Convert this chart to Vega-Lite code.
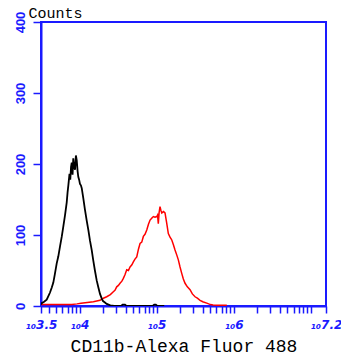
{
  "$schema": "https://vega.github.io/schema/vega-lite/v6.json",
  "autosize": {"type": "none"},
  "width": 285,
  "height": 284,
  "padding": {"left": 41, "top": 22, "right": 15, "bottom": 55},
  "background": "white",
  "config": {
    "view": {"stroke": "#1a1aff", "strokeWidth": 2},
    "axis": {"grid": false}
  },
  "datasets": {
    "curves": [
      {"s": "red", "x": 3.5, "y": 2}, {"s": "red", "x": 3.7, "y": 2}, {"s": "red", "x": 3.9, "y": 2},
      {"s": "red", "x": 3.968, "y": 3}, {"s": "red", "x": 4.02, "y": 4}, {"s": "red", "x": 4.1, "y": 5},
      {"s": "red", "x": 4.18, "y": 6}, {"s": "red", "x": 4.266, "y": 8}, {"s": "red", "x": 4.31, "y": 11},
      {"s": "red", "x": 4.353, "y": 13}, {"s": "red", "x": 4.4, "y": 16}, {"s": "red", "x": 4.439, "y": 20},
      {"s": "red", "x": 4.46, "y": 22}, {"s": "red", "x": 4.483, "y": 27}, {"s": "red", "x": 4.505, "y": 29},
      {"s": "red", "x": 4.526, "y": 32}, {"s": "red", "x": 4.55, "y": 35}, {"s": "red", "x": 4.569, "y": 39},
      {"s": "red", "x": 4.59, "y": 44}, {"s": "red", "x": 4.613, "y": 51}, {"s": "red", "x": 4.635, "y": 50},
      {"s": "red", "x": 4.656, "y": 55}, {"s": "red", "x": 4.68, "y": 58}, {"s": "red", "x": 4.699, "y": 62},
      {"s": "red", "x": 4.72, "y": 66}, {"s": "red", "x": 4.743, "y": 69}, {"s": "red", "x": 4.765, "y": 80},
      {"s": "red", "x": 4.786, "y": 88}, {"s": "red", "x": 4.808, "y": 90}, {"s": "red", "x": 4.829, "y": 98},
      {"s": "red", "x": 4.85, "y": 101}, {"s": "red", "x": 4.873, "y": 107}, {"s": "red", "x": 4.895, "y": 115},
      {"s": "red", "x": 4.916, "y": 121}, {"s": "red", "x": 4.94, "y": 124}, {"s": "red", "x": 4.959, "y": 126},
      {"s": "red", "x": 4.98, "y": 125}, {"s": "red", "x": 5.003, "y": 126}, {"s": "red", "x": 5.013, "y": 128},
      {"s": "red", "x": 5.023, "y": 116}, {"s": "red", "x": 5.034, "y": 132}, {"s": "red", "x": 5.045, "y": 140},
      {"s": "red", "x": 5.056, "y": 135}, {"s": "red", "x": 5.068, "y": 131}, {"s": "red", "x": 5.09, "y": 133},
      {"s": "red", "x": 5.11, "y": 131}, {"s": "red", "x": 5.13, "y": 118}, {"s": "red", "x": 5.153, "y": 102},
      {"s": "red", "x": 5.175, "y": 97}, {"s": "red", "x": 5.198, "y": 93}, {"s": "red", "x": 5.22, "y": 86},
      {"s": "red", "x": 5.24, "y": 79}, {"s": "red", "x": 5.262, "y": 72}, {"s": "red", "x": 5.283, "y": 65},
      {"s": "red", "x": 5.305, "y": 55}, {"s": "red", "x": 5.327, "y": 46}, {"s": "red", "x": 5.348, "y": 38},
      {"s": "red", "x": 5.37, "y": 32}, {"s": "red", "x": 5.4, "y": 27}, {"s": "red", "x": 5.435, "y": 23},
      {"s": "red", "x": 5.465, "y": 17}, {"s": "red", "x": 5.5, "y": 13}, {"s": "red", "x": 5.53, "y": 11},
      {"s": "red", "x": 5.565, "y": 8}, {"s": "red", "x": 5.6, "y": 6}, {"s": "red", "x": 5.652, "y": 4},
      {"s": "red", "x": 5.7, "y": 2}, {"s": "red", "x": 5.734, "y": 1.5}, {"s": "red", "x": 5.8, "y": 1},
      {"s": "red", "x": 5.912, "y": 1},
      {"s": "black", "x": 3.5, "y": 2}, {"s": "black", "x": 3.509, "y": 4}, {"s": "black", "x": 3.54, "y": 6},
      {"s": "black", "x": 3.574, "y": 9}, {"s": "black", "x": 3.6, "y": 15}, {"s": "black", "x": 3.617, "y": 19},
      {"s": "black", "x": 3.64, "y": 26}, {"s": "black", "x": 3.66, "y": 33}, {"s": "black", "x": 3.68, "y": 45},
      {"s": "black", "x": 3.704, "y": 60}, {"s": "black", "x": 3.725, "y": 70}, {"s": "black", "x": 3.747, "y": 84},
      {"s": "black", "x": 3.77, "y": 98}, {"s": "black", "x": 3.79, "y": 112}, {"s": "black", "x": 3.812, "y": 128},
      {"s": "black", "x": 3.834, "y": 146}, {"s": "black", "x": 3.845, "y": 160}, {"s": "black", "x": 3.855, "y": 170},
      {"s": "black", "x": 3.87, "y": 186}, {"s": "black", "x": 3.88, "y": 178}, {"s": "black", "x": 3.89, "y": 196},
      {"s": "black", "x": 3.899, "y": 202}, {"s": "black", "x": 3.91, "y": 185}, {"s": "black", "x": 3.919, "y": 208},
      {"s": "black", "x": 3.93, "y": 195}, {"s": "black", "x": 3.942, "y": 192}, {"s": "black", "x": 3.953, "y": 212},
      {"s": "black", "x": 3.964, "y": 205}, {"s": "black", "x": 3.975, "y": 190}, {"s": "black", "x": 3.984, "y": 182},
      {"s": "black", "x": 3.995, "y": 178}, {"s": "black", "x": 4.006, "y": 172}, {"s": "black", "x": 4.018, "y": 170},
      {"s": "black", "x": 4.029, "y": 166}, {"s": "black", "x": 4.049, "y": 152}, {"s": "black", "x": 4.07, "y": 136},
      {"s": "black", "x": 4.094, "y": 120}, {"s": "black", "x": 4.115, "y": 107}, {"s": "black", "x": 4.136, "y": 92},
      {"s": "black", "x": 4.158, "y": 79}, {"s": "black", "x": 4.179, "y": 64}, {"s": "black", "x": 4.2, "y": 50},
      {"s": "black", "x": 4.223, "y": 36}, {"s": "black", "x": 4.245, "y": 26}, {"s": "black", "x": 4.266, "y": 17},
      {"s": "black", "x": 4.29, "y": 10}, {"s": "black", "x": 4.305, "y": 7}, {"s": "black", "x": 4.33, "y": 5},
      {"s": "black", "x": 4.353, "y": 3}, {"s": "black", "x": 4.4, "y": 1}, {"s": "black", "x": 4.45, "y": 0},
      {"s": "black", "x": 4.54, "y": 0}, {"s": "black", "x": 4.56, "y": 2}, {"s": "black", "x": 4.59, "y": 2},
      {"s": "black", "x": 4.61, "y": 0}, {"s": "black", "x": 4.95, "y": 0}, {"s": "black", "x": 4.97, "y": 2},
      {"s": "black", "x": 4.99, "y": 2}, {"s": "black", "x": 5.01, "y": 0}, {"s": "black", "x": 5.1, "y": 0}
    ]
  },
  "data": {"name": "curves"},
  "mark": {"type": "line", "clip": true},
  "encoding": {
    "x": {
      "field": "x",
      "type": "quantitative",
      "scale": {"domain": [3.5, 7.2], "nice": false, "zero": false},
      "axis": {
        "values": [3.5, 3.60206, 3.69897, 3.77815, 3.8451, 3.90309, 3.95424, 4,
                   4.30103, 4.47712, 4.60206, 4.69897, 4.77815, 4.8451, 4.90309, 4.95424, 5,
                   5.30103, 5.47712, 5.60206, 5.69897, 5.77815, 5.8451, 5.90309, 5.95424, 6,
                   6.30103, 6.47712, 6.60206, 6.69897, 6.77815, 6.8451, 6.90309, 6.95424, 7, 7.2],
        "labelExpr": "indexof([3.5,4,5,6,7.2], datum.value) >= 0 ? '₁₀' + format(datum.value, '.2~f') : ''",
        "labelOverlap": false,
        "labelFlush": false,
        "labelColor": "#1a1aff",
        "labelFont": "DejaVu Sans",
        "labelFontWeight": "bold",
        "labelFontStyle": "italic",
        "labelFontSize": 12,
        "labelPadding": 6,
        "domainColor": "#1a1aff",
        "domainWidth": 2,
        "tickColor": "#1a1aff",
        "tickWidth": 1.5,
        "tickSize": 7,
        "title": "CD11b-Alexa Fluor 488",
        "titleFont": "Liberation Mono",
        "titleFontSize": 18,
        "titleFontWeight": "normal",
        "titleColor": "black",
        "titleBaseline": "alphabetic",
        "titleY": 45
      }
    },
    "y": {
      "field": "y",
      "type": "quantitative",
      "scale": {"domain": [0, 400], "nice": false},
      "axis": {
        "values": [0, 100, 200, 300, 400],
        "labelAngle": 270,
        "labelAlign": "center",
        "labelBaseline": "bottom",
        "labelColor": "#1a1aff",
        "labelFont": "Liberation Sans",
        "labelFontWeight": "bold",
        "labelFontSize": 13,
        "labelPadding": 6,
        "domainColor": "#1a1aff",
        "domainWidth": 2,
        "tickColor": "#1a1aff",
        "tickWidth": 1.5,
        "tickSize": 8,
        "title": "Counts",
        "titleAngle": 0,
        "titleX": -13,
        "titleY": -5,
        "titleAlign": "left",
        "titleBaseline": "alphabetic",
        "titleFont": "Liberation Mono",
        "titleFontSize": 15,
        "titleFontWeight": "normal",
        "titleColor": "black"
      }
    },
    "color": {
      "field": "s",
      "type": "nominal",
      "scale": {"domain": ["black", "red"], "range": ["black", "#ff0000"]},
      "legend": null
    },
    "strokeWidth": {
      "field": "s",
      "type": "nominal",
      "scale": {"domain": ["black", "red"], "range": [1.8, 1.5]},
      "legend": null
    },
    "order": {"field": "x", "type": "quantitative"}
  }
}
